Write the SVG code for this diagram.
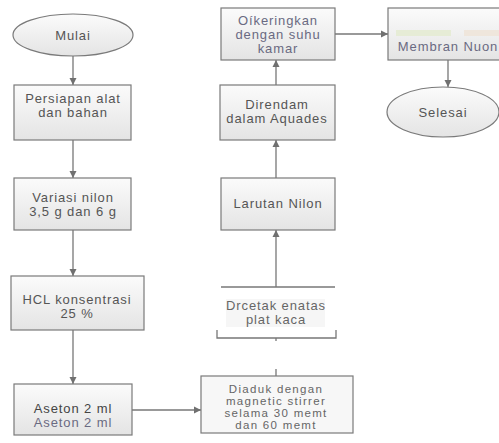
<svg xmlns="http://www.w3.org/2000/svg" width="499" height="443" viewBox="0 0 499 443">
<defs>
<linearGradient id="g" x1="0" y1="0" x2="0" y2="1">
<stop offset="0" stop-color="#fbfbfb"/>
<stop offset="1" stop-color="#e4e4e4"/>
</linearGradient>
<marker id="a" markerWidth="8" markerHeight="8" refX="7" refY="4" orient="auto" markerUnits="userSpaceOnUse">
<path d="M0,0.5 L7,4 L0,7.5 Z" fill="#707070"/>
</marker>
<style>
.b{fill:url(#g);stroke:#7a7a7a;stroke-width:1.2}
.t{font-family:"Liberation Sans",Arial,sans-serif;font-size:13px;fill:#555;text-anchor:middle;letter-spacing:0.9px}
.s{font-size:11.5px;letter-spacing:1.3px;fill:#666}
.p{fill:#6a6a82}
.c{stroke:#777;stroke-width:1.3;fill:none}
.ca{stroke:#777;stroke-width:1.3;fill:none;marker-end:url(#a)}
</style>
</defs>
<rect width="499" height="443" fill="#fff"/>
<g id="connectors">
<line class="ca" x1="73" y1="56" x2="73" y2="85"/>
<line class="ca" x1="73" y1="140" x2="73" y2="178"/>
<line class="ca" x1="73" y1="230" x2="73" y2="276"/>
<line class="ca" x1="73" y1="330" x2="73" y2="384"/>
<line class="ca" x1="132" y1="410" x2="201" y2="410"/>
<line class="c" x1="276" y1="369" x2="276" y2="376"/>
<line class="c" x1="276" y1="338" x2="276" y2="341"/>
<line class="ca" x1="276" y1="287" x2="276" y2="230"/>
<line class="ca" x1="276" y1="178" x2="276" y2="140"/>
<line class="ca" x1="276" y1="85" x2="276" y2="60"/>
<line class="ca" x1="335" y1="34" x2="388" y2="34"/>
<line class="ca" x1="448" y1="60" x2="448" y2="87"/>
</g>
<g id="mulai">
<ellipse class="b" cx="73" cy="35" rx="60" ry="21"/>
<text class="t" x="73" y="40">Mulai</text>
</g>
<g id="persiapan">
<rect class="b" x="14" y="85" width="117" height="55"/>
<text class="t" x="73" y="103">Persiapan alat</text>
<text class="t" x="73" y="117">dan bahan</text>
</g>
<g id="variasi">
<rect class="b" x="14" y="178" width="117" height="52"/>
<text class="t" x="73" y="202">Variasi nilon</text>
<text class="t" x="73" y="216">3,5 g dan 6 g</text>
</g>
<g id="hcl">
<rect class="b" x="11" y="276" width="133" height="54"/>
<text class="t" x="77" y="304">HCL konsentrasi</text>
<text class="t" x="77" y="318">25 %</text>
</g>
<g id="aseton">
<rect class="b" x="14" y="384" width="118" height="51"/>
<text class="t" x="73" y="413" style="fill:#444">Aseton 2 ml</text>
<text class="t p" x="73" y="427">Aseton  2 ml</text>
</g>
<g id="diaduk">
<rect class="b" x="201" y="376" width="152" height="57" style="fill:#f7f7f7"/>
<text class="t s" x="276" y="393">Diaduk dengan</text>
<text class="t s" x="276" y="405">magnetic stirrer</text>
<text class="t s" x="276" y="417">selama 30 memt</text>
<text class="t s" x="276" y="429">dan 60 memt</text>
</g>
<g id="dicetak">
<line class="c" x1="221" y1="287" x2="335" y2="287"/>
<path class="c" d="M217,330 V338 H336 V330"/>
<rect x="226" y="299" width="99" height="28" fill="#f6f6f6"/>
<text class="t" x="276" y="310" style="fill:#666">Drcetak enatas</text>
<text class="t" x="276" y="324" style="fill:#666">plat kaca</text>
</g>
<g id="larutan">
<rect class="b" x="221" y="178" width="114" height="52"/>
<text class="t" x="278" y="208">Larutan Nilon</text>
</g>
<g id="direndam">
<rect class="b" x="220" y="85" width="115" height="55"/>
<text class="t" x="277" y="109">Direndam</text>
<text class="t" x="277" y="123">dalam Aquades</text>
</g>
<g id="dikeringkan">
<rect class="b" x="221" y="8" width="114" height="52"/>
<text class="t p" x="278" y="25">Oíkeringkan</text>
<text class="t p" x="278" y="39">dengan suhu</text>
<text class="t p" x="278" y="53">kamar</text>
</g>
<g id="membran">
<rect class="b" x="388" y="8" width="120" height="52"/>
<rect x="396" y="30" width="55" height="6" fill="#e6ecd6"/>
<rect x="464" y="30" width="35" height="6" fill="#efe6dc"/>
<text class="t p" x="448" y="51">Membran Nuon</text>
</g>
<g id="selesai">
<ellipse class="b" cx="443" cy="112" rx="56" ry="25"/>
<text class="t" x="443" y="117">Selesai</text>
</g>
</svg>
